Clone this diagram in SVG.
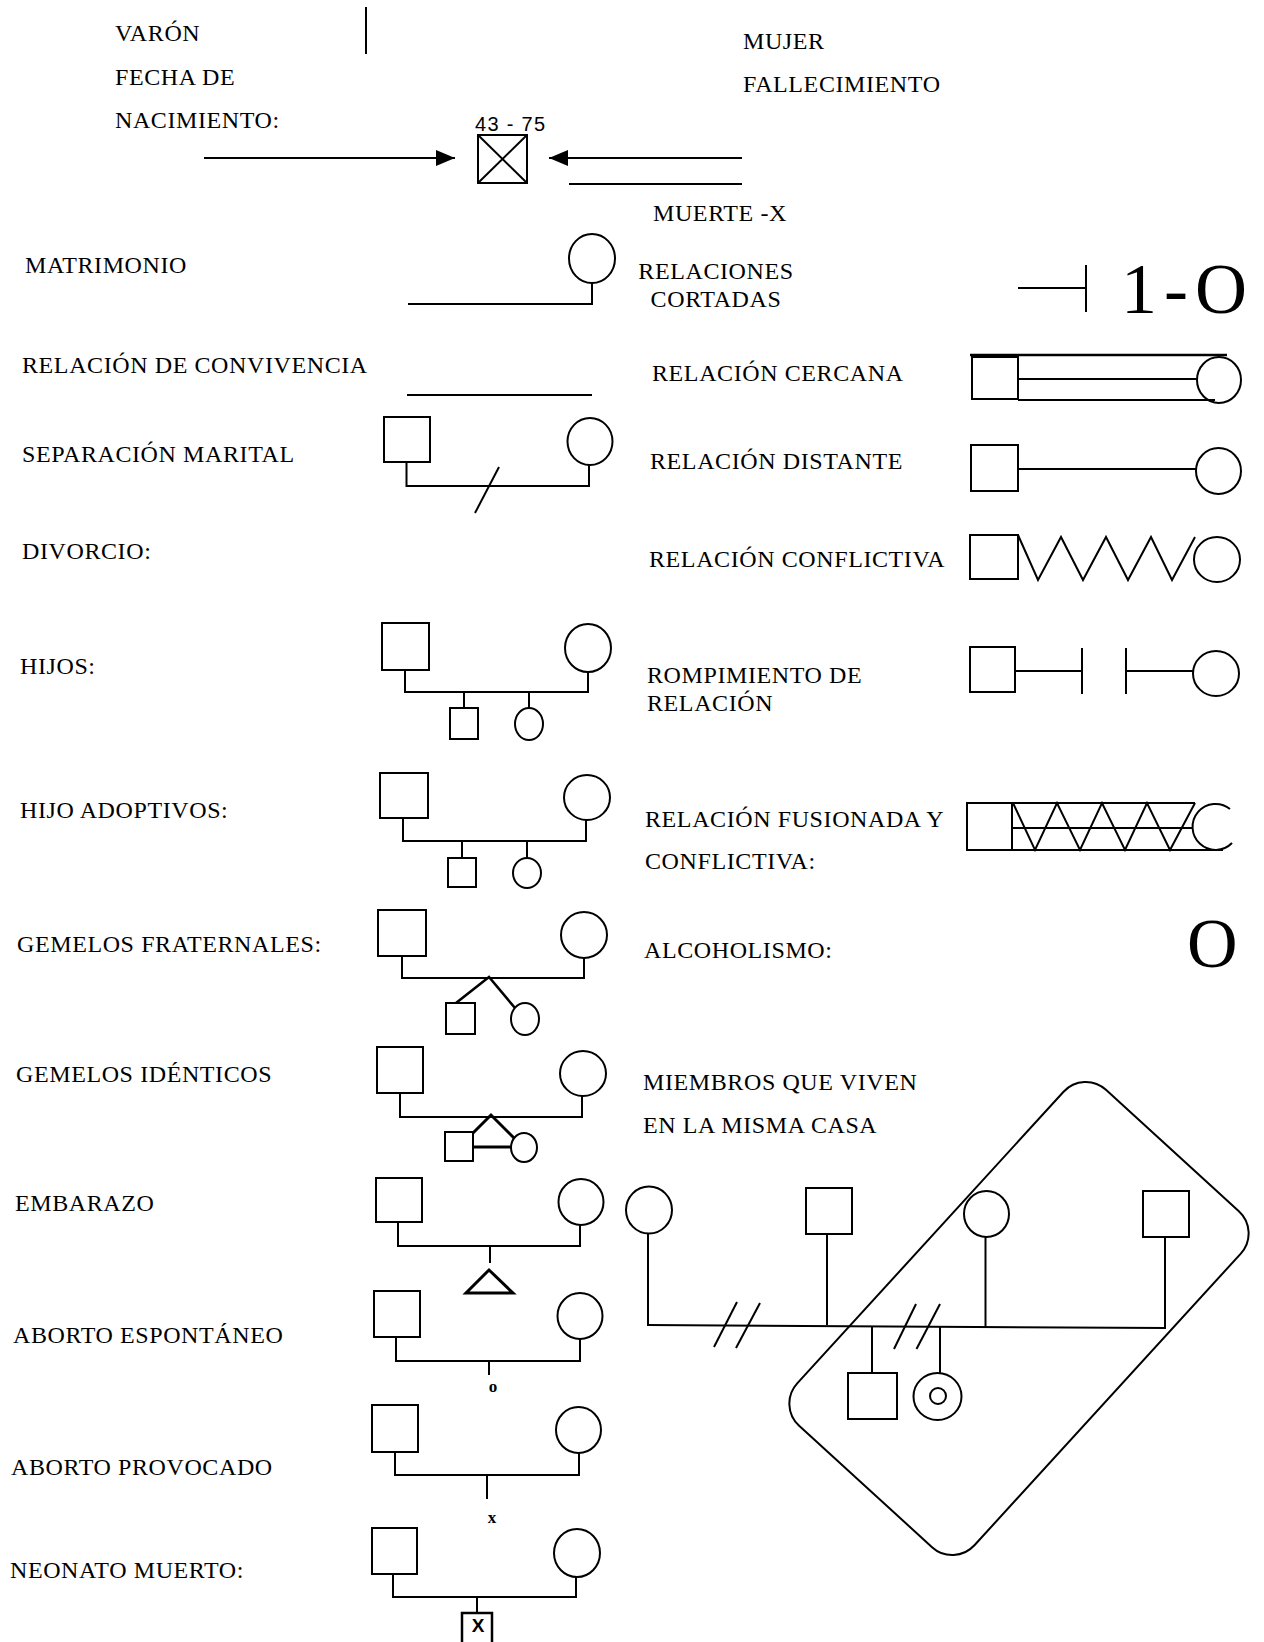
<svg xmlns="http://www.w3.org/2000/svg" width="1264" height="1642" viewBox="0 0 1264 1642">
<style>
.t{font-family:"Liberation Serif",serif;font-size:24px;letter-spacing:0.6px;fill:#000}
.s{fill:none;stroke:#000;stroke-width:2}
.w{fill:#fff;stroke:#000;stroke-width:2}
.k{fill:none;stroke:#000;stroke-width:3}
</style>
<defs>
<marker id="ah" markerUnits="userSpaceOnUse" markerWidth="20" markerHeight="16" refX="19" refY="8" orient="auto">
<path d="M0,0 L19,8 L0,16 z" fill="#000"/>
</marker>
</defs>
<rect width="1264" height="1642" fill="#fff"/>

<g id="labels">
<text class="t" x="115" y="41">VARÓN</text>
<text class="t" x="115" y="85">FECHA DE</text>
<text class="t" x="115" y="128">NACIMIENTO:</text>
<text class="t" x="743" y="49">MUJER</text>
<text class="t" x="743" y="92">FALLECIMIENTO</text>
<text class="t" x="653" y="221">MUERTE -X</text>
<text class="t" x="25" y="273">MATRIMONIO</text>
<text class="t" x="716" y="279" text-anchor="middle">RELACIONES</text>
<text class="t" x="716" y="307" text-anchor="middle">CORTADAS</text>
<text class="t" x="22" y="373">RELACIÓN DE CONVIVENCIA</text>
<text class="t" x="22" y="462">SEPARACIÓN MARITAL</text>
<text class="t" x="22" y="559">DIVORCIO:</text>
<text class="t" x="20" y="674">HIJOS:</text>
<text class="t" x="20" y="818">HIJO ADOPTIVOS:</text>
<text class="t" x="17" y="952">GEMELOS FRATERNALES:</text>
<text class="t" x="16" y="1082">GEMELOS IDÉNTICOS</text>
<text class="t" x="15" y="1211">EMBARAZO</text>
<text class="t" x="13" y="1343">ABORTO ESPONTÁNEO</text>
<text class="t" x="11" y="1475">ABORTO PROVOCADO</text>
<text class="t" x="10" y="1578">NEONATO MUERTO:</text>
<text class="t" x="652" y="381">RELACIÓN CERCANA</text>
<text class="t" x="650" y="469">RELACIÓN DISTANTE</text>
<text class="t" x="649" y="567">RELACIÓN CONFLICTIVA</text>
<text class="t" x="647" y="683">ROMPIMIENTO DE</text>
<text class="t" x="647" y="711">RELACIÓN</text>
<text class="t" x="645" y="827">RELACIÓN FUSIONADA Y</text>
<text class="t" x="645" y="869">CONFLICTIVA:</text>
<text class="t" x="644" y="958">ALCOHOLISMO:</text>
<text class="t" x="643" y="1090">MIEMBROS QUE VIVEN</text>
<text class="t" x="643" y="1133">EN LA MISMA CASA</text>
</g>

<g id="varon-mark"><line class="s" x1="366" y1="7" x2="366" y2="54"/></g>

<g id="deceased">
<text x="510" y="131" text-anchor="middle" font-family="Liberation Sans, sans-serif" font-size="20" textLength="70" lengthAdjust="spacing">43 - 75</text>
<rect class="s" x="478" y="135" width="49" height="48"/>
<line class="s" x1="478" y1="135" x2="527" y2="183"/>
<line class="s" x1="527" y1="135" x2="478" y2="183"/>
</g>

<g id="connectors">
<line class="s" x1="204" y1="158" x2="455" y2="158" marker-end="url(#ah)"/>
<line class="s" x1="742" y1="158" x2="549" y2="158" marker-end="url(#ah)"/>
<line class="s" x1="569" y1="184" x2="742" y2="184"/>
</g>

<g id="matrimonio">
<ellipse class="s" cx="592" cy="258.5" rx="23" ry="24.5"/>
<polyline class="s" points="408,304 592,304 592,283"/>
</g>

<g id="cortadas">
<line class="s" x1="1018" y1="288" x2="1086" y2="288"/>
<line class="s" x1="1086" y1="265" x2="1086" y2="312"/>
<text x="1121" y="313" font-family="Liberation Serif, serif" font-size="72" letter-spacing="7">1-O</text>
</g>

<g id="convivencia"><line class="s" x1="407" y1="395" x2="592" y2="395"/></g>

<g id="separacion">
<rect class="s" x="384" y="417" width="46" height="45"/>
<ellipse class="s" cx="590" cy="441.5" rx="22.5" ry="23.5"/>
<polyline class="s" points="406.5,462 406.5,486 589,486 589,465"/>
<line class="s" x1="475" y1="513" x2="499" y2="467"/>
</g>

<g id="hijos">
<rect class="s" x="382" y="623" width="47" height="47"/>
<ellipse class="s" cx="588" cy="648" rx="23" ry="24"/>
<polyline class="s" points="405,670 405,692 588,692 588,672"/>
<line class="s" x1="464" y1="692" x2="464" y2="708"/>
<line class="s" x1="529" y1="692" x2="529" y2="708"/>
<rect class="s" x="450" y="708" width="28" height="31"/>
<ellipse class="s" cx="529" cy="724" rx="14" ry="16"/>
</g>

<g id="adoptivos">
<rect class="s" x="380" y="773" width="48" height="45"/>
<ellipse class="s" cx="587" cy="797.5" rx="23" ry="22.5"/>
<polyline class="s" points="403,818 403,841 586,841 586,820"/>
<line class="s" x1="462" y1="841" x2="462" y2="858"/>
<line class="s" x1="527" y1="841" x2="527" y2="858"/>
<rect class="s" x="448" y="858" width="28" height="29"/>
<ellipse class="s" cx="527" cy="873" rx="14" ry="15"/>
</g>

<g id="fraternales">
<rect class="s" x="378" y="910" width="48" height="46"/>
<ellipse class="s" cx="584" cy="935" rx="23" ry="23"/>
<polyline class="s" points="402,956 402,978 584,978 584,958"/>
<polyline class="s" style="stroke-width:2.6" points="456,1003 489,977 515,1008"/>
<rect class="s" x="446" y="1003" width="29" height="31"/>
<ellipse class="s" cx="525" cy="1019" rx="14" ry="16"/>
</g>

<g id="identicos">
<rect class="s" x="377" y="1047" width="46" height="46"/>
<ellipse class="s" cx="583" cy="1073.5" rx="23" ry="22.5"/>
<polyline class="s" points="400,1093 400,1117 582,1117 582,1096"/>
<polyline class="k" points="473,1133 491,1115 514,1138"/>
<rect class="s" x="445" y="1132" width="28" height="29"/>
<ellipse class="s" cx="524" cy="1147.5" rx="13" ry="14.5"/>
<line class="k" x1="473" y1="1147" x2="511" y2="1147"/>
</g>

<g id="embarazo">
<rect class="s" x="376" y="1178" width="46" height="44"/>
<ellipse class="s" cx="581" cy="1202" rx="22.5" ry="23"/>
<polyline class="s" points="398,1222 398,1246 580,1246 580,1225"/>
<line class="s" x1="490" y1="1246" x2="490" y2="1263"/>
<polygon class="k" points="489,1270 466,1293 513,1293"/>
</g>

<g id="espontaneo">
<rect class="s" x="374" y="1291" width="46" height="46"/>
<ellipse class="s" cx="580" cy="1316" rx="22.5" ry="23"/>
<polyline class="s" points="396,1337 396,1361 580,1361 580,1339"/>
<line class="s" x1="489" y1="1361" x2="489" y2="1375"/>
<text x="493" y="1392" text-anchor="middle" font-family="Liberation Serif, serif" font-size="17" font-weight="bold">o</text>
</g>

<g id="provocado">
<rect class="s" x="372" y="1405" width="46" height="47"/>
<ellipse class="s" cx="578.5" cy="1430" rx="22.5" ry="23"/>
<polyline class="s" points="395,1452 395,1475 579,1475 579,1453"/>
<line class="s" x1="487" y1="1475" x2="487" y2="1499"/>
<text x="492" y="1523" text-anchor="middle" font-family="Liberation Serif, serif" font-size="17" font-weight="bold">x</text>
</g>

<g id="neonato">
<rect class="s" x="372" y="1528" width="45" height="46"/>
<ellipse class="s" cx="577" cy="1553" rx="23" ry="24"/>
<polyline class="s" points="393,1574 393,1597 576,1597 576,1577"/>
<line class="s" x1="477" y1="1597" x2="477" y2="1613"/>
<rect x="462" y="1613" width="30" height="34" fill="none" stroke="#000" stroke-width="2.5"/>
<text x="478" y="1632" text-anchor="middle" font-family="Liberation Sans, sans-serif" font-size="19" font-weight="bold">X</text>
</g>

<g id="cercana">
<line x1="970" y1="355" x2="1227" y2="355" stroke="#000" stroke-width="2.5"/>
<rect class="s" x="972" y="357" width="46" height="42"/>
<line class="s" x1="1018" y1="379" x2="1197" y2="379"/>
<line class="s" x1="1018" y1="400" x2="1215" y2="400"/>
<ellipse class="s" cx="1219" cy="380" rx="22" ry="23"/>
</g>

<g id="distante">
<rect class="s" x="971" y="445" width="47" height="46"/>
<line class="s" x1="1018" y1="469" x2="1196" y2="469"/>
<ellipse class="s" cx="1218.5" cy="471" rx="22.5" ry="23"/>
</g>

<g id="conflictiva">
<rect class="s" x="970" y="535" width="48" height="44"/>
<polyline class="s" points="1018,535 1038,580 1061,537 1083,580 1106,537 1128,580 1151,537 1172,580 1195,537"/>
<ellipse class="s" cx="1217" cy="559.5" rx="23" ry="22.5"/>
</g>

<g id="rompimiento">
<rect class="s" x="970" y="647" width="45" height="45"/>
<line class="s" x1="1015" y1="671" x2="1082" y2="671"/>
<line class="s" x1="1082" y1="648" x2="1082" y2="694"/>
<line class="s" x1="1126" y1="648" x2="1126" y2="694"/>
<line class="s" x1="1126" y1="671" x2="1193" y2="671"/>
<ellipse class="s" cx="1216" cy="673.5" rx="23" ry="22.5"/>
</g>

<g id="fusionada">
<polyline class="s" points="1195,803 967,803 967,850 1223,850"/>
<line class="s" x1="1012" y1="803" x2="1012" y2="850"/>
<line class="s" x1="1012" y1="828" x2="1193" y2="828"/>
<polyline class="s" points="1013,803 1035,850 1057,803 1080,850 1102,803 1125,850 1147,803 1170,850 1195,803"/>
<path class="s" d="M1230,809 A23,23 0 1 0 1232,843"/>
</g>

<g id="alcoholismo">
<text x="1187" y="967" font-family="Liberation Serif, serif" font-size="70">O</text>
</g>

<g id="hogar">
<rect x="-227.5" y="-120" width="455" height="240" rx="30" fill="none" stroke="#000" stroke-width="2" transform="translate(1019,1318.5) rotate(-47.6)"/>
<ellipse class="s" cx="649" cy="1210" rx="23" ry="23.5"/>
<rect class="s" x="806" y="1188" width="46" height="46"/>
<ellipse class="s" cx="986.5" cy="1214" rx="22.5" ry="23"/>
<rect class="s" x="1143" y="1191" width="46" height="46"/>
<line class="s" x1="648" y1="1233" x2="648" y2="1325"/>
<line class="s" x1="827" y1="1234" x2="827" y2="1325"/>
<line class="s" x1="985.5" y1="1237" x2="985.5" y2="1327"/>
<line class="s" x1="1165" y1="1237" x2="1165" y2="1328"/>
<line class="s" x1="647" y1="1325" x2="1166" y2="1328"/>
<line class="s" x1="872" y1="1326" x2="872" y2="1373"/>
<line class="s" x1="940" y1="1327" x2="940" y2="1373"/>
<rect class="s" x="848" y="1373" width="49" height="46"/>
<ellipse class="s" cx="937.5" cy="1396.5" rx="24" ry="23.5"/>
<circle class="s" cx="938" cy="1396" r="8"/>
<line class="s" x1="714" y1="1347" x2="737" y2="1302"/>
<line class="s" x1="736" y1="1348" x2="760" y2="1303"/>
<line class="s" x1="894" y1="1349" x2="916" y2="1304"/>
<line class="s" x1="916.5" y1="1349" x2="940" y2="1304"/>
</g>
</svg>
